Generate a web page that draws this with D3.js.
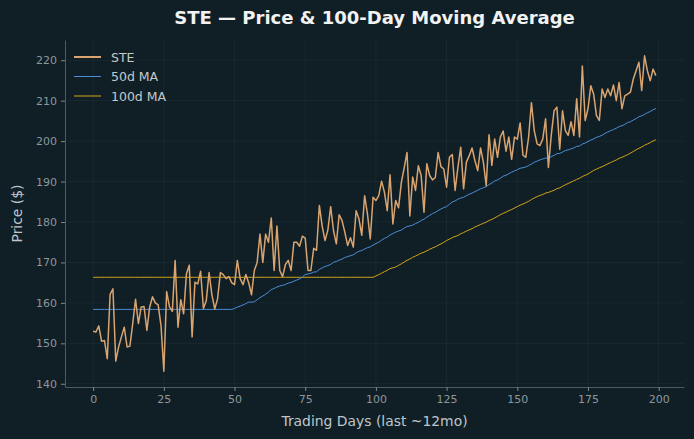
<!DOCTYPE html>
<html>
<head>
<meta charset="utf-8">
<script src="https://cdn.jsdelivr.net/npm/d3@7"></script>
<style>
  html, body { margin: 0; padding: 0; background: #101f26; }
  svg { display: block; font-family: "DejaVu Sans", sans-serif; }
</style>
</head>
<body>
<script>
// STE daily close, last 200 trading days
var price = [
  153.0, 152.8, 154.3, 150.5, 150.7, 146.2, 162.1, 163.5, 145.6, 149.1,
  151.6, 154.0, 149.1, 149.3, 154.9, 160.9, 154.9, 159.0, 159.1, 153.2,
  159.0, 161.5, 160.0, 159.5, 154.4, 143.1, 162.8, 159.0, 157.9, 170.5,
  154.0, 160.8, 157.3, 167.2, 169.3, 151.6, 165.1, 164.7, 167.8, 158.6,
  160.5, 167.5, 162.0, 158.5, 161.0, 167.5, 167.0, 166.0, 166.5, 165.0,
  164.5, 170.5, 166.0, 164.5, 167.0, 165.0, 162.0, 168.0, 170.0, 177.0,
  170.0, 177.0, 175.0, 181.0, 168.0, 179.0, 168.0, 166.5, 169.5, 170.5,
  168.0, 175.0, 175.0, 174.0, 176.5, 176.0, 168.0, 168.0, 173.5, 173.0,
  184.1, 179.0, 175.4, 178.0, 183.8, 177.9, 174.6, 181.8, 180.4, 177.5,
  174.2, 176.1, 173.8, 182.8, 180.8, 176.7, 186.5, 182.0, 175.8, 186.1,
  185.3, 186.5, 190.1, 187.4, 182.8, 191.7, 179.5, 185.3, 183.5, 189.8,
  193.4, 197.2, 181.5, 191.1, 187.8, 193.9, 191.5, 182.4, 194.4, 191.5,
  190.4, 191.0, 197.2, 193.7, 193.1, 188.6, 196.0, 196.7, 187.8, 193.5,
  198.5, 188.2, 194.8, 196.4, 198.3, 195.2, 192.7, 198.3, 194.8, 189.0,
  201.6, 194.0, 200.5, 196.0, 201.0, 202.5, 197.5, 201.0, 195.5, 201.0,
  200.5, 204.5, 196.5, 196.0, 201.0, 209.5, 202.6, 199.3, 198.9, 200.5,
  205.5, 193.5, 201.4, 207.5, 208.4, 198.0, 207.5, 202.6, 201.4, 204.8,
  201.4, 210.5, 201.0, 218.6, 205.1, 208.0, 213.7, 211.6, 206.3, 205.1,
  212.9, 210.8, 212.9, 211.2, 213.9, 210.0, 214.5, 208.0, 211.2, 211.6,
  212.1, 215.3, 217.4, 219.5, 212.5, 221.1, 217.4, 214.9, 217.8, 216.2
];

var maWindows = [50, 100];
var seriesNames = ["STE", "50d MA", "100d MA"];
var xTicks = [0, 25, 50, 75, 100, 125, 150, 175, 200];
var yTicks = [140, 150, 160, 170, 180, 190, 200, 210, 220];

var colors = { price: "#d9a46f", ma50: "#4a8fd8", ma100: "#d4a418" };

// rolling mean, first full window value carried back to the start
function rolling(arr, w) {
    var out = [];
    for (var i = 0; i < arr.length; i++) {
        if (i < w - 1) { out.push(null); continue; }
        out.push(d3.mean(arr.slice(i - w + 1, i + 1)));
    }
    var first = out[w - 1];
    return out.map(function(v) { return v === null ? first : v; });
}

var ma50 = rolling(price, maWindows[0]);
var ma100 = rolling(price, maWindows[1]);

var width = 694, height = 439;
var margin = { top: 40, right: 10, bottom: 52, left: 65 };

var svg = d3.select("body").append("svg")
    .attr("width", width)
    .attr("height", height);

svg.append("rect")
    .attr("width", width).attr("height", height)
    .attr("fill", "#101f26");

// matplotlib-style 5% padding on the data range
var n = price.length;
var xPad = (n - 1) * 0.05;
var x = d3.scaleLinear()
    .domain([-xPad, n - 1 + xPad])
    .range([margin.left, width - margin.right]);

var lo = d3.min(price), hi = d3.max(price);
var yPad = (hi - lo) * 0.05;
var y = d3.scaleLinear()
    .domain([lo - yPad, hi + yPad])
    .range([height - margin.bottom, margin.top]);

// grid
svg.append("g").selectAll("line")
    .data(xTicks).enter().append("line")
    .attr("x1", function(d) { return x(d); })
    .attr("x2", function(d) { return x(d); })
    .attr("y1", margin.top).attr("y2", height - margin.bottom)
    .attr("stroke", "#ffffff").attr("stroke-opacity", 0.05)
    .attr("stroke-width", 0.8);

svg.append("g").selectAll("line")
    .data(yTicks).enter().append("line")
    .attr("y1", function(d) { return y(d); })
    .attr("y2", function(d) { return y(d); })
    .attr("x1", margin.left).attr("x2", width - margin.right)
    .attr("stroke", "#ffffff").attr("stroke-opacity", 0.05)
    .attr("stroke-width", 0.8);

// axes
var xAxis = svg.append("g")
    .attr("transform", "translate(0," + (height - margin.bottom) + ")")
    .call(d3.axisBottom(x).tickValues(xTicks).tickSize(4).tickPadding(4).tickSizeOuter(0));

var yAxis = svg.append("g")
    .attr("transform", "translate(" + margin.left + ",0)")
    .call(d3.axisLeft(y).tickValues(yTicks).tickSize(4).tickPadding(4).tickSizeOuter(0));

[xAxis, yAxis].forEach(function(ax) {
    ax.select(".domain").attr("stroke", "#50595e").attr("stroke-width", 1);
    ax.selectAll(".tick line").attr("stroke", "#7d878c");
    ax.selectAll(".tick text")
        .attr("fill", "#8c979c")
        .style("font-size", "11px")
        .style("font-family", "DejaVu Sans");
});

// lines
var line = d3.line()
    .x(function(d, i) { return x(i); })
    .y(function(d) { return y(d); });

svg.append("path").datum(ma100)
    .attr("d", line).attr("fill", "none")
    .attr("stroke", colors.ma100).attr("stroke-width", 1);

svg.append("path").datum(ma50)
    .attr("d", line).attr("fill", "none")
    .attr("stroke", colors.ma50).attr("stroke-width", 1);

svg.append("path").datum(price)
    .attr("d", line).attr("fill", "none")
    .attr("stroke", colors.price).attr("stroke-width", 1.5)
    .attr("stroke-linejoin", "round");

// title and labels
svg.append("text")
    .attr("x", (margin.left + width - margin.right) / 2)
    .attr("y", 24)
    .attr("text-anchor", "middle")
    .attr("fill", "#f2f2f2")
    .style("font-size", "18px")
    .style("font-weight", "bold")
    .text("STE \u2014 Price & 100-Day Moving Average");

svg.append("text")
    .attr("x", (margin.left + width - margin.right) / 2)
    .attr("y", 426)
    .attr("text-anchor", "middle")
    .attr("fill", "#bfc6ca")
    .style("font-size", "13.9px")
    .text("Trading Days (last ~12mo)");

svg.append("text")
    .attr("transform", "translate(22," + ((margin.top + height - margin.bottom) / 2) + ") rotate(-90)")
    .attr("text-anchor", "middle")
    .attr("fill", "#bfc6ca")
    .style("font-size", "13.9px")
    .text("Price ($)");

// legend
var legendItems = [
    { name: seriesNames[0], color: colors.price, w: 2 },
    { name: seriesNames[1], color: colors.ma50, w: 1 },
    { name: seriesNames[2], color: colors.ma100, w: 1 }
];

var legend = svg.append("g").attr("transform", "translate(74,57)");
var row = legend.selectAll("g").data(legendItems).enter().append("g")
    .attr("transform", function(d, i) { return "translate(0," + (i * 19.5) + ")"; });

row.append("line")
    .attr("x1", 0).attr("x2", 27)
    .attr("stroke", function(d) { return d.color; })
    .attr("stroke-width", function(d) { return d.w; });

row.append("text")
    .attr("x", 37).attr("y", 4.5)
    .attr("fill", "#c3c9cc")
    .style("font-size", "12.5px")
    .text(function(d) { return d.name; });
</script>
</body>
</html>
